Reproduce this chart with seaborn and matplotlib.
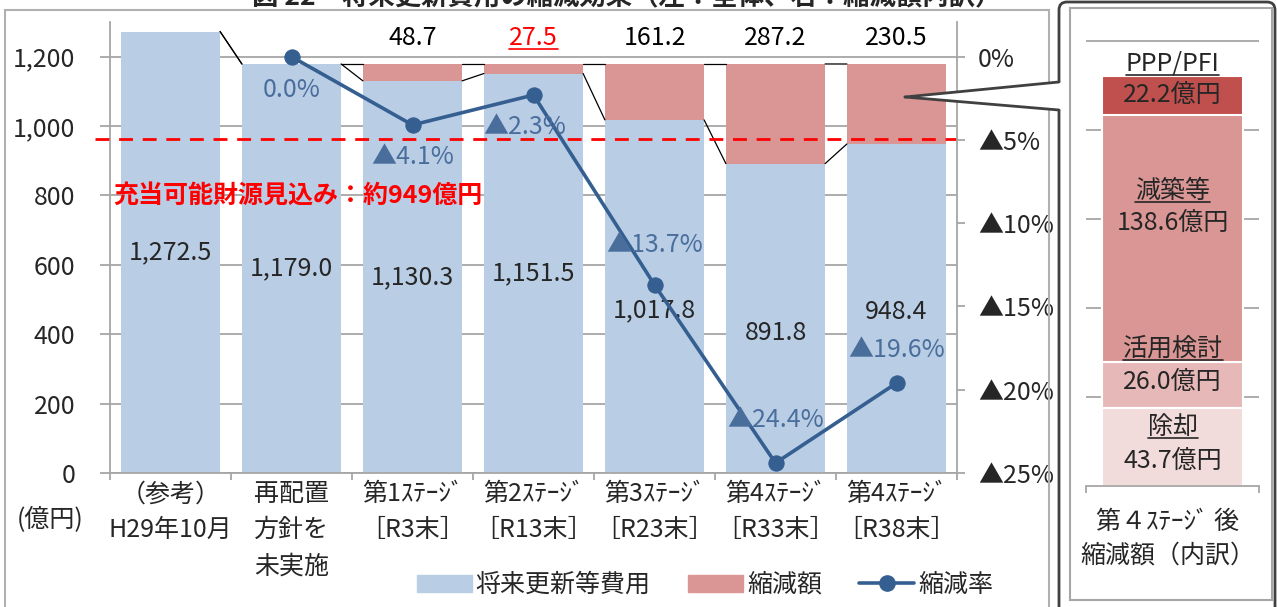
import numpy as np
import pandas as pd
import matplotlib.pyplot as plt
import seaborn as sns
from matplotlib.patches import Patch, Polygon, Rectangle, FancyBboxPatch
from matplotlib.lines import Line2D
from matplotlib.transforms import IdentityTransform

# data
cats = ['（参考）\nH29年10月', '再配置\n方針を\n未実施', '第1ｽﾃｰｼﾞ\n［R3末］', '第2ｽﾃｰｼﾞ\n［R13末］',
        '第3ｽﾃｰｼﾞ\n［R23末］', '第4ｽﾃｰｼﾞ\n［R33末］', '第4ｽﾃｰｼﾞ\n［R38末］']
cost = [1272.5, 1179.0, 1130.3, 1151.5, 1017.8, 891.8, 948.4]
cut = [0, 0, 48.7, 27.5, 161.2, 287.2, 230.5]
rate_cats = cats[1:]
rate = [0.0, -4.1, -2.3, -13.7, -24.4, -19.6]
budget = 963  # dashed line as drawn (label says 949)

parts = ['除却', '活用検討', '減築等', 'PPP/PFI']
part_vals = [43.7, 26.0, 138.6, 22.2]

BLUE = '#b9cde5'
PINK = '#d99694'
LINE = '#365f91'
LBL = '#4a6e9c'
GRID = '#a6a6a6'
part_colors = ['#f2dcdb', '#e6b9b8', '#d99694', '#c0504d']

sns.set_theme(style='white')
plt.rcParams['font.family'] = ['Noto Sans CJK JP', 'DejaVu Sans']
FS = 18

W, H = 1277, 607
fig = plt.figure(figsize=(W / 100, H / 100), dpi=100)
ID = IdentityTransform()

# ---- main chart
ax = fig.add_axes([110 / W, 1 - 473 / H, 847 / W, 451 / H])
df = pd.DataFrame({'cat': cats, 'cost': cost, 'cut': cut})
df['total'] = df['cost'] + df['cut']

sns.barplot(data=df, x='cat', y='total', color=PINK, saturation=1, width=0.82, linewidth=0, ax=ax)
sns.barplot(data=df, x='cat', y='cost', color=BLUE, saturation=1, width=0.82, linewidth=0, ax=ax)

ax.set_xlim(-0.5, 6.5)
ax.set_ylim(0, 1300)
ax.set_yticks(range(0, 1201, 200), [f'{v:,}' for v in range(0, 1201, 200)], fontsize=FS)
ax.yaxis.grid(True, color=GRID, lw=1.3)
ax.set_axisbelow(True)
ax.tick_params(axis='y', which='major', left=True, length=7, width=1.3, color=GRID, pad=18)
ax.set_xticks(range(7), cats, fontsize=FS, linespacing=1.5)
ax.set_xticks(np.arange(-0.5, 7, 1), minor=True)
ax.tick_params(axis='x', which='major', length=0, pad=6)
ax.tick_params(axis='x', which='minor', bottom=True, length=5, width=1.3, color=GRID)
ax.set_xlabel('')
ax.set_ylabel('')
for s in ['top', 'right']:
    ax.spines[s].set_visible(False)
for s in ['left', 'bottom']:
    ax.spines[s].set_color(GRID)
    ax.spines[s].set_linewidth(1.3)

# series lines between bars
tot = df['total'].tolist()
for i in range(6):
    ax.plot([i + 0.41, i + 0.59], [cost[i], cost[i + 1]], color='black', lw=0.9, zorder=3)
    ax.plot([i + 0.41, i + 0.59], [tot[i], tot[i + 1]], color='black', lw=0.9, zorder=3)

ax.plot([-0.62, 6.5], [budget, budget], color='#ff0000', lw=2, ls=(0, (5, 3.5)), clip_on=False, zorder=5)
ax.text(-0.475, 798, '充当可能財源見込み：約949億円', color='#ff0000', fontsize=FS, fontweight='bold',
        ha='left', va='center', zorder=6)

# value labels
label_shift = [0, 0, 0, 0, -40, -43, -10]
for i, v in enumerate(cost):
    ax.text(i, v / 2 + label_shift[i], f'{v:,.1f}', ha='center', va='center', fontsize=FS, zorder=6)
cut_txt = []
for i, v in enumerate(cut):
    if v > 0:
        t = ax.text(i, 1254, f'{v:.1f}', ha='center', va='center', fontsize=FS,
                    color='#ff0000' if i == 3 else 'black')
        cut_txt.append(t)

# rate line
ax2 = ax.twinx()
pos = [cats.index(c) for c in rate_cats]
sns.lineplot(x=pos, y=rate, ax=ax2, color=LINE, lw=2.6, marker='o', markersize=11,
             markeredgecolor=LINE)
ax2.set_xlim(-0.5, 6.5)
ax2.set_ylim(-25, 25 / 12)
ax2.set_yticks([0, -5, -10, -15, -20, -25], ['0%', '▲5%', '▲10%', '▲15%', '▲20%', '▲25%'], fontsize=FS)
ax2.tick_params(axis='y', right=True, length=6, width=1.3, color=GRID, pad=9)
for s in ['top', 'left', 'bottom']:
    ax2.spines[s].set_visible(False)
ax2.spines['right'].set_color(GRID)
ax2.spines['right'].set_linewidth(1.3)
ax2.set_ylabel('')

rate_lbl_y = [-1.98, -6.0, -4.2, -11.3, -21.8, -17.6]
rate_lbl_dx = [0, 0, -0.07, 0, 0, 0]
for p, r, y, dx in zip(pos, rate, rate_lbl_y, rate_lbl_dx):
    s = '0.0%' if r == 0 else f'▲{abs(r):.1f}%'
    ax2.text(p + dx, y, s, ha='center', va='center', fontsize=FS, color=LBL)

fig.text(50 / W, 1 - 520 / H, '(億円)', ha='center', va='center', fontsize=FS)

handles = [Patch(color=BLUE), Patch(color=PINK),
           Line2D([], [], color=LINE, lw=2.6, marker='o', markersize=11)]
fig.legend(handles, ['将来更新等費用', '縮減額', '縮減率'], loc='center', ncol=3,
           bbox_to_anchor=(705 / W, 1 - 585 / H), frameon=False, fontsize=FS,
           handlelength=2.2, handletextpad=0.15, columnspacing=1.5)

# ---- right breakdown panel
ax3 = fig.add_axes([1086 / W, 1 - 486 / H, 173 / W, 447 / H])
cum = np.cumsum(part_vals)
for i in range(len(parts) - 1, -1, -1):
    sns.barplot(x=['内訳'], y=[cum[i]], color=part_colors[i], saturation=1, width=0.82,
                edgecolor='white', linewidth=1.5, ax=ax3)
ax3.set_xlim(-0.5, 0.5)
ax3.set_ylim(0, 251)
ax3.set_yticks(range(50, 251, 50), [])
ax3.yaxis.grid(True, color=GRID, lw=1.3)
ax3.set_axisbelow(True)
ax3.tick_params(axis='y', length=0)
ax3.set_xticks([-0.5, 0.5], [])
ax3.tick_params(axis='x', bottom=True, length=5, width=1.3, color=GRID)
for s in ['top', 'right', 'left']:
    ax3.spines[s].set_visible(False)
ax3.spines['bottom'].set_color(GRID)
ax3.spines['bottom'].set_linewidth(1.3)
ax3.set_xlabel('')
ax3.set_ylabel('')

name_y = [33, 77.2, 165.5, 237]
val_y = [14, 58.7, 147.7, 219.8]
name_txt = []
for n, v, ny, vy in zip(parts, part_vals, name_y, val_y):
    name_txt.append(ax3.text(0, ny, n, ha='center', va='center', fontsize=FS))
    ax3.text(0, vy, f'{v:.1f}億円', ha='center', va='center', fontsize=FS)

fig.text(1168 / W, 1 - 522 / H, '第４ｽﾃｰｼﾞ 後', ha='center', va='center', fontsize=FS)
fig.text(1168 / W, 1 - 556 / H, '縮減額（内訳）', ha='center', va='center', fontsize=FS)

# ---- frames and callout
fig.add_artist(Rectangle((5, -13), 1044, 610, transform=ID, fill=False, ec='#b0b0b0', lw=1.5, zorder=4))
fig.add_artist(FancyBboxPatch((1059, -20), 216, H - 2 + 20, boxstyle='round,pad=0,rounding_size=8',
                              transform=ID, fc='white', ec='#404040', lw=2, zorder=-1))
fig.add_artist(Rectangle((1070, H - 600), 202, 592, transform=ID, fill=False, ec='#a6a6a6', lw=1.5, zorder=4))
tip = (905, H - 97)
fig.add_artist(Polygon([tip, (1061, H - 82), (1061, H - 110)], closed=True, transform=ID,
                       fc='white', ec='none', zorder=5))
for yy in [82, 110]:
    fig.add_artist(Line2D([tip[0], 1059], [tip[1], H - yy], transform=ID, color='#404040', lw=2, zorder=6))

fig.text(627 / W, 1 + 2 / H, '図 22　将来更新費用の縮減効果（左：全体、右：縮減額内訳）',
         ha='center', va='center', fontsize=19, fontweight='bold')

# underlines
fig.canvas.draw()
for t in [cut_txt[1]] + name_txt:
    bb = t.get_window_extent()
    fig.add_artist(Line2D([bb.x0, bb.x1], [bb.y0 + 2, bb.y0 + 2], transform=ID,
                          color=t.get_color(), lw=1.2, zorder=7))

fig.savefig('out.png', dpi=100)
